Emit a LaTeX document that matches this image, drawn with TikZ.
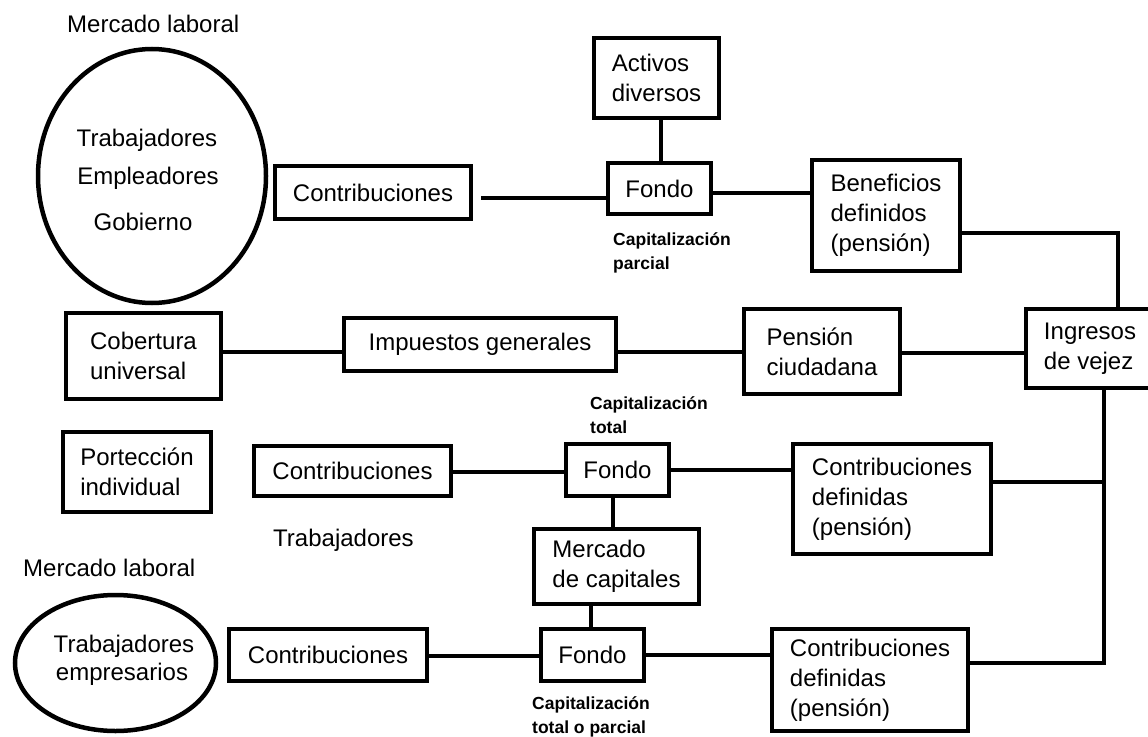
\documentclass[tikz,border=0pt]{standalone}
\usepackage{fontspec}
\setmainfont{Liberation Sans}
\usetikzlibrary{shapes.geometric}
\begin{document}
\begin{tikzpicture}[x=1pt,y=-1pt,
  box/.style={draw, line width=4.5pt, inner sep=0pt, align=left,
              font=\fontsize{24}{30}\selectfont},
  oval/.style={draw, ellipse, line width=4.5pt, inner sep=0pt},
  label/.style={inner sep=0pt, anchor=base west, font=\fontsize{24}{30}\selectfont},
  note/.style={inner sep=0pt, anchor=north west, align=left,
               font=\bfseries\fontsize{17.5}{24}\selectfont},
  link/.style={line width=4.2pt}]
\useasboundingbox (0,0) rectangle (1148,736);

% --- contributory scheme with partial funding
\node[label] (mlA) at (67,32) {Mercado laboral};
\node[oval, minimum width=228pt, minimum height=254pt] (ellA) at (152,176) {};
\node[label, anchor=base] (tA1) at (147,146) {Trabajadores};
\node[label, anchor=base] (tA2) at (148,184) {Empleadores};
\node[label, anchor=base] (tA3) at (143,230) {Gobierno};
\node[box, minimum width=196pt, minimum height=53pt] (contribA) at (373,192.5) {Contribuciones};
\node[box, minimum width=125pt, minimum height=80pt] (activos) at (656.5,78) {Activos\\diversos};
\node[box, minimum width=103pt, minimum height=51pt] (fondoA) at (659.5,188.5) {Fondo};
\node[note] (capA) at (613,232) {Capitalización\\parcial};
\node[box, minimum width=148pt, minimum height=111pt] (benef) at (886,215.5) {Beneficios\\definidos\\(pensión)};

% --- universal coverage
\node[box, minimum width=155pt, minimum height=86pt] (cobert) at (143.5,356) {Cobertura\\universal};
\node[box, minimum width=272pt, minimum height=53pt] (impuestos) at (480,344.5) {Impuestos generales};
\node[box, minimum width=156pt, minimum height=85pt] (pension) at (822,351.5) {Pensión\\ciudadana};
\node[box, minimum width=128pt, minimum height=79pt] (ingresos) at (1090,348.5) {Ingresos\\de vejez};

% --- individual protection, full funding
\node[box, minimum width=148pt, minimum height=80pt] (portec) at (137,472) {Portección\\individual};
\node[box, minimum width=197pt, minimum height=50pt] (contribB) at (352.5,471) {Contribuciones};
\node[box, minimum width=103pt, minimum height=52pt] (fondoB) at (617.5,470) {Fondo};
\node[note] (capB) at (590,396) {Capitalización\\total};
\node[box, minimum width=198pt, minimum height=110pt] (defB) at (892,499) {Contribuciones\\definidas\\(pensión)};
\node[label] (trab) at (273,546) {Trabajadores};
\node[box, minimum width=165pt, minimum height=75pt] (mercap) at (616.5,566.5) {Mercado\\de capitales};

% --- occupational scheme
\node[label] (mlB) at (23,576) {Mercado laboral};
\node[oval, minimum width=201pt, minimum height=136pt] (ellB) at (115.5,663) {};
\node[label, anchor=base] (tB1) at (124,652) {Trabajadores};
\node[label, anchor=base] (tB2) at (122,680) {empresarios};
\node[box, minimum width=198pt, minimum height=52pt] (contribC) at (328,655) {Contribuciones};
\node[box, minimum width=103pt, minimum height=52pt] (fondoC) at (592.5,655) {Fondo};
\node[note] (capC) at (532,696) {Capitalización\\total o parcial};
\node[box, minimum width=196pt, minimum height=102pt] (defC) at (870,680) {Contribuciones\\definidas\\(pensión)};

% --- connectors
\draw[link] (contribA.east |- 0,198) ++(8,0) -- (fondoA.west |- 0,198);
\draw[link] (activos.south -| 661,0) -- (fondoA.north -| 661,0);
\draw[link] (fondoA.east |- 0,193) -- (benef.west |- 0,193);
\draw[link] (benef.east |- 0,233) -| (ingresos.north -| 1118,0);

\draw[link] (cobert.east |- 0,352) -- (impuestos.west |- 0,352);
\draw[link] (impuestos.east |- 0,352) -- (pension.west |- 0,352);
\draw[link] (pension.east |- 0,353) -- (ingresos.west |- 0,353);

\draw[link] (contribB.east |- 0,472) -- (fondoB.west |- 0,472);
\draw[link] (fondoB.east |- 0,470) -- (defB.west |- 0,470);
\draw[link] (fondoB.south -| 613,0) -- (mercap.north -| 613,0);
\draw[link] (mercap.south -| 591,0) -- (fondoC.north -| 591,0);

\draw[link] (contribC.east |- 0,656) -- (fondoC.west |- 0,656);
\draw[link] (fondoC.east |- 0,655) -- (defC.west |- 0,655);

\draw[link] (ingresos.south -| 1104,0) |- (defC.east |- 0,663);
\draw[link] (defB.east |- 0,482) -| (ingresos.south -| 1104,0);
\end{tikzpicture}
\end{document}
